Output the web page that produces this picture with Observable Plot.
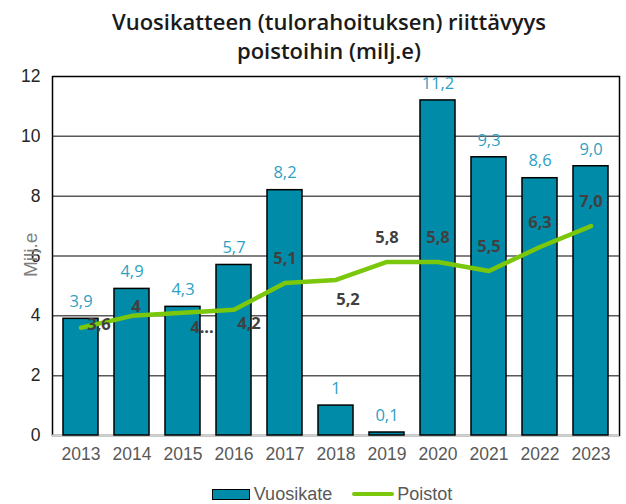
<!DOCTYPE html>
<html>
<head>
<meta charset="utf-8">
<script src="https://cdn.jsdelivr.net/npm/d3@7"></script>
<script src="https://cdn.jsdelivr.net/npm/@observablehq/plot@0.6"></script>
<style>
  html, body { margin: 0; padding: 0; background: #fff; }
  #wrap { width: 626px; height: 504px; position: relative; overflow: hidden; }
  #title { height: 62px; box-sizing: border-box; padding-top: 7px; padding-left: 32px; text-align: center; white-space: nowrap;
    font-family: "Open Sans", "Noto Sans", sans-serif; font-weight: 600; font-size: 22px; line-height: 29px; color: #1a1a1a; }
  #legend { position: absolute; left: 0; top: 484px; width: 626px; height: 20px; line-height: 20px; display: flex; justify-content: center; align-items: center; padding-left: 38px; box-sizing: border-box;
    font-family: "Liberation Sans", Arial, sans-serif; font-size: 18px; color: #595959; }
  .sw-bar { width: 36px; height: 9px; background: #008ca8; border: 1.5px solid #000; margin-right: 4px; }
  .sw-line { width: 42px; height: 4px; background: #7ac70c; margin-left: 20px; margin-right: 3px; border-radius: 2px; }
</style>
</head>
<body>
<div id="wrap">
  <div id="title">Vuosikatteen (tulorahoituksen) riittävyys<br>poistoihin (milj.e)</div>
  <div id="chart"></div>
  <div id="legend"><span class="sw-bar"></span><span>Vuosikate</span><span class="sw-line"></span><span>Poistot</span></div>
</div>
<script>
// ---- data ----
const years = ["2013","2014","2015","2016","2017","2018","2019","2020","2021","2022","2023"];
const vuosikate = [3.9, 4.9, 4.3, 5.7, 8.2, 1.0, 0.1, 11.2, 9.3, 8.6, 9.0];
const vuosikateLabels = ["3,9","4,9","4,3","5,7","8,2","1","0,1","11,2","9,3","8,6","9,0"];
const poistot = [3.6, 4.0, 4.1, 4.2, 5.1, 5.2, 5.8, 5.8, 5.5, 6.3, 7.0];
const poistotLabels = ["3,6","4","4...","4,2","5,1","5,2","5,8","5,8","5,5","6,3","7,0"];
const yTicks = [0, 2, 4, 6, 8, 10, 12];
const gridValues = [2, 4, 6, 8, 10];
const yLabel = "Milj.e";

// ---- build table ----
const rows = years.map((y, i) => ({
  year: y, bar: vuosikate[i], barLabel: vuosikateLabels[i],
  line: poistot[i], lineLabel: poistotLabels[i]
}));

// label placement for the line's data labels (style only)
const lineLabelOffsets = [
  [18, -3], [4, -9], [19, 15], [15, 14], [0, -24], [12, 20],
  [0, -24], [0, -24], [0, -24], [0, -24], [0, -24]
];

const lineLabelMarks = rows.map((r, i) => Plot.text([r], {
  x: "year", y: "line", text: "lineLabel",
  dx: lineLabelOffsets[i][0], dy: lineLabelOffsets[i][1],
  fill: "#404040", fontWeight: "bold", fontSize: 16.5,
  fontFamily: "'Open Sans', sans-serif"
}));

const chart = Plot.plot({
  width: 626,
  height: 410,
  marginLeft: 52,
  marginRight: 7,
  marginTop: 14,
  marginBottom: 37,
  style: { fontFamily: "'Liberation Sans', Arial, sans-serif", fontSize: "17.5px", background: "#fff" },
  x: { domain: years, paddingInner: 0.32, paddingOuter: 0.16, label: null, tickSize: 0, tickPadding: 12 },
  y: { domain: [0, 12], ticks: yTicks, label: null, tickSize: 0, tickPadding: 12 },
  marks: [
    Plot.ruleY(gridValues, { stroke: "#595959", strokeWidth: 1.5 }),
    Plot.frame({ stroke: "#000", strokeWidth: 1.5 }),
    Plot.ruleY([0], { stroke: "#d0d0d0", strokeWidth: 2 }),
    Plot.barY(rows, { x: "year", y: "bar", fill: "#008ca8", stroke: "#000", strokeWidth: 1.5 }),
    Plot.line(rows, { x: "year", y: "line", stroke: "#7ac70c", strokeWidth: 4.5, strokeLinecap: "round", strokeLinejoin: "round" }),
    Plot.text(rows, { x: "year", y: "bar", text: "barLabel", dy: -17, fill: "#2f9fc2",
      fontSize: 16.5, fontFamily: "'Open Sans', sans-serif" }),
    ...lineLabelMarks,
    Plot.text([yLabel], { frameAnchor: "left", rotate: -90, dx: -22, dy: 21, fill: "#7f7f7f", fontSize: 19 })
  ]
});

// axis text colours
d3.select(chart).selectAll("[aria-label='x-axis tick label']").attr("fill", "#595959");
d3.select(chart).selectAll("[aria-label='y-axis tick label']").attr("fill", "#262626");
document.getElementById("chart").appendChild(chart);
</script>
</body>
</html>
